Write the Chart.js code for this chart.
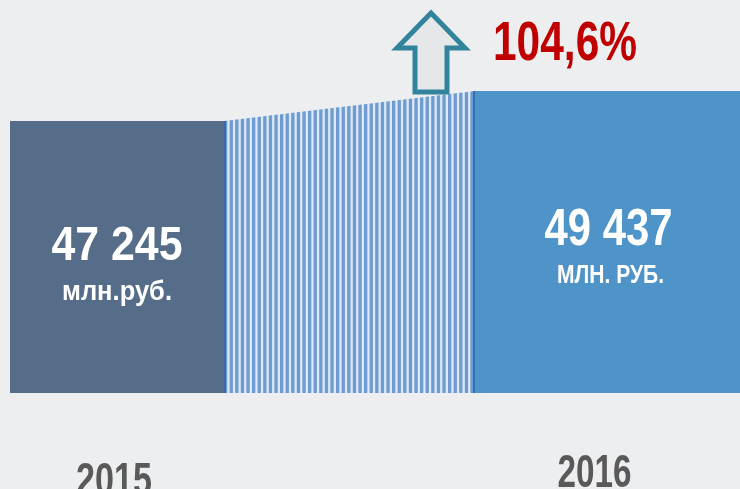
<!DOCTYPE html>
<html>
<head>
<meta charset="utf-8">
<script src="https://cdn.jsdelivr.net/npm/chart.js@4"></script>
<style>
  html, body { margin: 0; padding: 0; background: #edeef0; }
  #wrap { width: 740px; height: 489px; }
</style>
</head>
<body>
<div id="wrap"><canvas id="chart"></canvas></div>
<script>
const years = ['2015', '2016'];
const values = [47245, 49437];
const unitLabels = ['млн.руб.', 'МЛН. РУБ.'];

// layout (horizontal extents in px of the plot area): bar, transition, bar
const barWidths = [214, 265];
const gapWidth = 251;

const FONT = "'Liberation Sans', Arial, sans-serif";
const growth = (values[1] / values[0] * 100).toFixed(1).replace('.', ',') + '%';

const x0 = 0;
const x1 = barWidths[0];
const x2 = x1 + gapWidth;
const x3 = x2 + barWidths[1];

function fmt(n) {
  return String(n).replace(/\B(?=(\d{3})+(?!\d))/g, ' ');
}

// vertical stripes for the transition block
function stripePattern() {
  const c = document.createElement('canvas');
  c.width = 28; c.height = 4;
  const g = c.getContext('2d');
  g.fillStyle = '#dde8f5';
  g.fillRect(0, 0, 28, 4);
  g.fillStyle = '#6f9bd1';
  for (let i = 0; i < 5; i++) g.fillRect(i * 5.6, 0, 3.3, 4);
  return g.createPattern(c, 'repeat');
}

// condensed text: squeeze horizontally to a given width
function narrowText(ctx, text, cx, base, size, width, align) {
  ctx.font = 'bold ' + size + 'px ' + FONT;
  const w = ctx.measureText(text).width;
  const s = width / w;
  ctx.save();
  const left = align === 'left' ? cx : cx - width / 2;
  ctx.translate(left, base);
  ctx.scale(s, 1);
  ctx.textAlign = 'left';
  ctx.textBaseline = 'alphabetic';
  ctx.fillText(text, 0, 0);
  ctx.restore();
}

const segLine = { borderWidth: 0, pointRadius: 0, fill: 'start', tension: 0 };

const decor = {
  id: 'decor',
  afterDatasetsDraw(chart) {
    const { ctx, scales: { x, y } } = chart;
    ctx.save();
    // edge lines of the striped block
    ctx.fillStyle = '#3d68a6';
    ctx.fillRect(x.getPixelForValue(x1), y.getPixelForValue(values[0]), 2, y.bottom - y.getPixelForValue(values[0]));
    ctx.fillStyle = '#2f72b8';
    ctx.fillRect(x.getPixelForValue(x2) - 2, y.getPixelForValue(values[1]), 2, y.bottom - y.getPixelForValue(values[1]));

    // values inside the bars
    ctx.fillStyle = '#ffffff';
    const cx = [(x.getPixelForValue(x0) + x.getPixelForValue(x1)) / 2,
                (x.getPixelForValue(x2) + x.getPixelForValue(x3)) / 2];
    narrowText(ctx, fmt(values[0]), cx[0], 260, 49, 131);
    narrowText(ctx, unitLabels[0], cx[0], 300, 27, 110);
    narrowText(ctx, fmt(values[1]), cx[1] + 1, 245, 51, 128);
    narrowText(ctx, unitLabels[1], cx[1] + 3, 283, 26, 107);

    // year labels under the bars
    ctx.fillStyle = '#595959';
    narrowText(ctx, years[0], cx[0] - 3, 495, 47, 76);
    narrowText(ctx, years[1], cx[1] - 13, 487, 47, 74);

    // up arrow
    const ax = 431, top = 13, bot = y.getPixelForValue(values[1]) + 1;
    ctx.beginPath();
    ctx.moveTo(ax, top);
    ctx.lineTo(ax + 34, top + 35);
    ctx.lineTo(ax + 16, top + 35);
    ctx.lineTo(ax + 16, bot);
    ctx.lineTo(ax - 16, bot);
    ctx.lineTo(ax - 16, top + 35);
    ctx.lineTo(ax - 34, top + 35);
    ctx.closePath();
    ctx.fillStyle = '#e6e7e9';
    ctx.fill();
    ctx.lineWidth = 5;
    ctx.lineJoin = 'miter';
    ctx.strokeStyle = '#31849b';
    ctx.stroke();

    // growth percentage
    ctx.fillStyle = '#c00000';
    narrowText(ctx, growth, 493, 60, 56, 144, 'left');
    ctx.restore();
  }
};

const yMin = 27371;
const yMax = 56086;

new Chart(document.getElementById('chart'), {
  type: 'line',
  data: {
    datasets: [
      Object.assign({ data: [{ x: x0, y: values[0] }, { x: x1, y: values[0] }], backgroundColor: '#566d89' }, segLine),
      Object.assign({ data: [{ x: x1, y: values[0] }, { x: x2, y: values[1] }], backgroundColor: stripePattern() }, segLine),
      Object.assign({ data: [{ x: x2, y: values[1] }, { x: x3, y: values[1] }], backgroundColor: '#4f94c9' }, segLine)
    ]
  },
  options: {
    responsive: true,
    maintainAspectRatio: false,
    animation: false,
    layout: { padding: { left: 10, right: 0, top: 0, bottom: 96 } },
    plugins: { legend: { display: false }, tooltip: { enabled: false } },
    scales: {
      x: { type: 'linear', display: false, min: x0, max: x3 },
      y: { display: false, min: yMin, max: yMax }
    }
  },
  plugins: [decor]
});
</script>
</body>
</html>
